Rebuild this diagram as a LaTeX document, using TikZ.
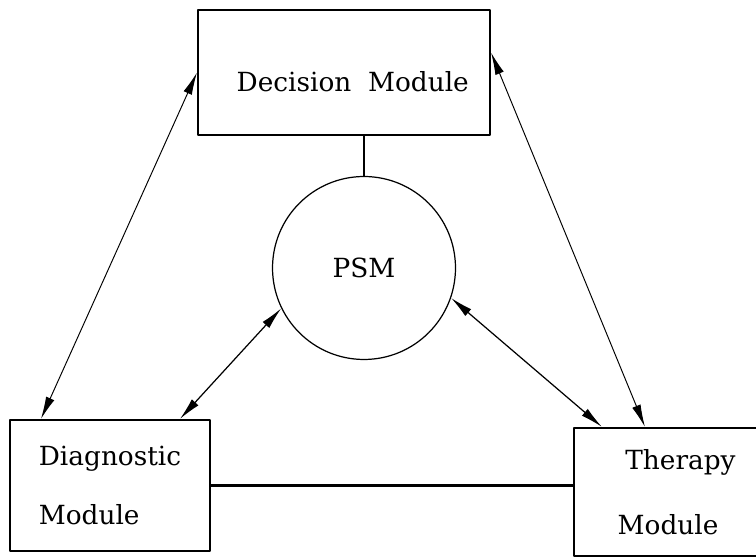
\documentclass[tikz,border=0pt]{standalone}
\usepackage{fontspec}
\setmainfont{DejaVu Serif}
\usetikzlibrary{arrows.meta}
\begin{document}
\begin{tikzpicture}[x=0.02cm, y=0.02cm, font=\fontsize{15}{18}\selectfont, line join=round, >={Latex[length=4.5mm,width=1.8mm]}]
            \tikzset{modbox/.style={draw, line width=1.2pt, rectangle, align=center},
                     link/.style={<->, line width=0.7pt}}
            \useasboundingbox (0,0) rectangle (756,557);
            \clip (0,0) rectangle (756,557);
            % modules
            \node[modbox, minimum width=5.84cm, minimum height=2.5cm, text height=0.75cm] (dec) at (344,484.5) {\hspace*{0.35cm}Decision~ Module};
            \node[modbox, minimum width=4cm, minimum height=2.62cm, align=left] (diag) at (110,71.5) {Diagnostic\\[16pt]Module};
            \node[modbox, minimum width=3.76cm, minimum height=2.56cm] (ther) at (668,65) {\hspace*{0.5cm}Therapy\\[19pt]Module};
            \node[draw, circle, line width=0.7pt, minimum size=3.66cm] (psm) at (364,289) {PSM};
            % plain links
            \draw[line width=1.1pt] (psm.north)--(psm.north |- dec.south);
            \draw[line width=1.2pt] (diag.east)--(diag.east -| ther.west);
            % arrows
            \draw[link, line width=0.55pt] ([xshift=0.64cm]diag.north west)--(dec.west);
            \draw[link, line width=0.55pt] ([yshift=0.4cm]dec.east)--([xshift=1.44cm]ther.north west);
            \draw[link] (psm.206)--([xshift=3.42cm]diag.north west);
            \draw[link] (psm.341)--([xshift=0.58cm]ther.north west);
        \end{tikzpicture}
\end{document}
